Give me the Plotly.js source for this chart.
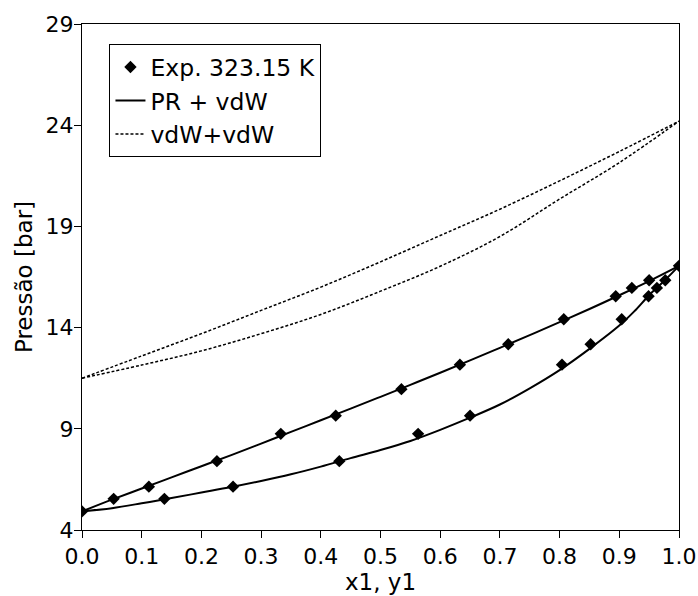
<!DOCTYPE html>
<html>
<head>
<meta charset="utf-8">
<script src="https://cdn.plot.ly/plotly-3.0.1.min.js"></script>
<style>html,body{margin:0;padding:0;background:#fff;}#chart{width:698px;height:596px;}</style>
</head>
<body>
<div id="chart"></div>
<script>
// Experimental data, 323.15 K
const expX1 = [0.0, 0.053, 0.112, 0.226, 0.333, 0.425, 0.535, 0.633, 0.714, 0.807, 0.894, 0.921, 0.950, 1.0];
const expPx = [4.92, 5.54, 6.14, 7.40, 8.75, 9.65, 10.96, 12.17, 13.18, 14.41, 15.55, 15.96, 16.34, 17.05];
const expY1 = [0.138, 0.253, 0.431, 0.563, 0.650, 0.804, 0.852, 0.904, 0.949, 0.963, 0.977];
const expPy = [5.54, 6.14, 7.40, 8.75, 9.65, 12.17, 13.18, 14.41, 15.55, 15.96, 16.34];

// PR + vdW model
const prBubX = [0, 0.05, 0.1, 0.15, 0.2, 0.25, 0.3, 0.35, 0.4, 0.45, 0.5, 0.55, 0.6, 0.65, 0.7, 0.75, 0.8, 0.85, 0.9, 0.95, 1.0];
const prBubP = [4.92, 5.5, 6.05, 6.6, 7.15, 7.7, 8.27, 8.85, 9.42, 10.0, 10.58, 11.17, 11.77, 12.38, 13.0, 13.63, 14.27, 14.92, 15.6, 16.3, 17.05];
const prDewX = [0, 0.05, 0.1, 0.15, 0.2, 0.25, 0.3, 0.35, 0.4, 0.45, 0.5, 0.55, 0.6, 0.65, 0.7, 0.75, 0.8, 0.85, 0.9, 0.925, 0.95, 0.975, 1.0];
const prDewP = [4.92, 5.08, 5.32, 5.58, 5.85, 6.12, 6.42, 6.75, 7.13, 7.55, 7.95, 8.4, 8.95, 9.55, 10.2, 11.0, 11.9, 12.95, 14.1, 14.8, 15.6, 16.3, 17.05];

// vdW + vdW model
const vdwX = [0, 0.1, 0.2, 0.3, 0.4, 0.5, 0.6, 0.7, 0.8, 0.9, 1.0];
const vdwBubP = [11.5, 12.6, 13.7, 14.85, 16.0, 17.25, 18.55, 19.85, 21.25, 22.7, 24.2];
const vdwDewP = [11.5, 12.15, 12.85, 13.7, 14.65, 15.8, 17.03, 18.5, 20.35, 22.15, 24.2];

const xTicks = [0, 0.1, 0.2, 0.3, 0.4, 0.5, 0.6, 0.7, 0.8, 0.9, 1.0];
const yTicks = [4, 9, 14, 19, 24, 29];

const traces = [
  {x: expX1.concat(expY1), y: expPx.concat(expPy), mode: 'markers', type: 'scatter',
   name: 'Exp. 323.15 K', legendgroup: 'exp', marker: {symbol: 'diamond', size: 9.5, color: '#000'}},
  {x: prBubX, y: prBubP, mode: 'lines', type: 'scatter', name: 'PR + vdW', legendgroup: 'pr',
   line: {color: '#000', width: 2, shape: 'spline'}},
  {x: prDewX, y: prDewP, mode: 'lines', type: 'scatter', name: 'PR + vdW', legendgroup: 'pr', showlegend: false,
   line: {color: '#000', width: 2, shape: 'spline'}},
  {x: vdwX, y: vdwBubP, mode: 'lines', type: 'scatter', name: 'vdW+vdW', legendgroup: 'vdw',
   line: {color: '#000', width: 1.5, dash: '3px,2px', shape: 'spline'}},
  {x: vdwX, y: vdwDewP, mode: 'lines', type: 'scatter', name: 'vdW+vdW', legendgroup: 'vdw', showlegend: false,
   line: {color: '#000', width: 1.5, dash: '3px,2px', shape: 'spline'}}
];

const tickFont = {family: 'DejaVu Sans', size: 22, color: '#000'};
const titleFont = {family: 'DejaVu Sans', size: 23, color: '#000'};
const legendFont = {family: 'DejaVu Sans', size: 23.5, color: '#000'};
const layout = {
  width: 698, height: 596,
  margin: {l: 82, r: 19, t: 24, b: 66},
  paper_bgcolor: '#fff', plot_bgcolor: '#fff',
  font: tickFont,
  showlegend: true,
  legend: {x: 0.046, y: 0.96, xanchor: 'left', yanchor: 'top', bordercolor: '#000', borderwidth: 1,
           bgcolor: '#fff', font: legendFont, itemwidth: 30, traceorder: 'grouped', tracegroupgap: 0},
  xaxis: {range: [0, 1], tickvals: xTicks, ticktext: xTicks.map(v => v.toFixed(1)),
          ticks: 'outside', ticklen: 7, tickwidth: 1, tickcolor: '#000',
          showline: true, linecolor: '#000', linewidth: 1, mirror: true, showgrid: false, zeroline: false,
          title: {text: 'x1, y1', font: titleFont, standoff: 2}, tickfont: tickFont},
  yaxis: {range: [4, 29], tickvals: yTicks, ticktext: yTicks.map(String),
          ticks: 'outside', ticklen: 7, tickwidth: 1, tickcolor: '#000', ticklabelstandoff: -4,
          showline: true, linecolor: '#000', linewidth: 1, mirror: true, showgrid: false, zeroline: false,
          title: {text: 'Pressão [bar]', font: titleFont, standoff: 6}, tickfont: tickFont}
};

Plotly.newPlot('chart', traces, layout, {displayModeBar: false});
</script>
</body>
</html>
